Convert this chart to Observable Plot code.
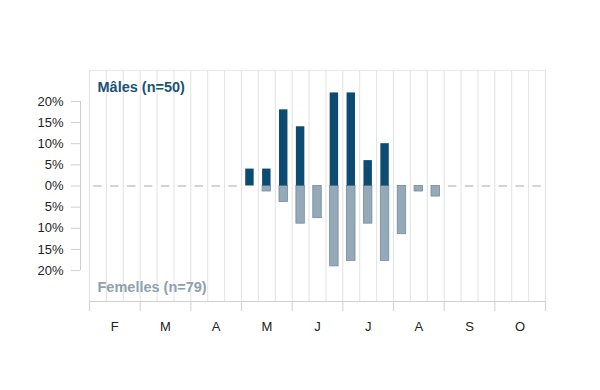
<!DOCTYPE html>
<html>
<head>
<meta charset="utf-8">
<script src="https://cdn.jsdelivr.net/npm/d3@7"></script>
<script src="https://cdn.jsdelivr.net/npm/@observablehq/plot@0.6"></script>
<style>
  html, body { margin: 0; padding: 0; background: #fff; }
</style>
</head>
<body>
<div id="chart"></div>
<script>
// Months shown on the axis; each month is split into three decades (10-day periods)
const months = ["F", "M", "A", "M", "J", "J", "A", "S", "O"];

// Share of captures per decade (%), February decade 1 → October decade 3
const males = [
  0, 0, 0,   // F
  0, 0, 0,   // M
  0, 0, 0,   // A
  4, 4, 18,  // M
  14, 0, 22, // J
  22, 6, 10, // J
  0, 0, 0,   // A
  0, 0, 0,   // S
  0, 0, 0    // O
];
const females = [
  0, 0, 0,
  0, 0, 0,
  0, 0, 0,
  0, 1.3, 3.8,
  8.9, 7.6, 19.0,
  17.7, 8.9, 17.7,
  11.4, 1.3, 2.5,
  0, 0, 0,
  0, 0, 0
];

const yTicks = [-20, -15, -10, -5, 0, 5, 10, 15, 20];
const maleLabel = "Mâles (n=50)";
const femaleLabel = "Femelles (n=79)";

const rows = males.map((m, i) => ({i, m, f: females[i]}));
const nSlots = rows.length;
const monthEdges = d3.range(0, nSlots + 1, 3);
const monthCenters = months.map((_, k) => k * 3 + 1.5);
const yMax = 27.3;

const maleColor = "#0c4c72";
const femaleColor = "#95aab8";

const chart = Plot.plot({
  width: 600,
  height: 390,
  marginLeft: 89,
  marginRight: 55,
  marginTop: 70,
  marginBottom: 89,
  style: {fontFamily: "'Liberation Sans', Arial, sans-serif", background: "#fff"},
  x: {domain: [0, nSlots]},
  y: {domain: [-yMax, yMax]},
  marks: [
    // decade grid
    Plot.ruleX(d3.range(nSlots + 1), {stroke: "#e2e2e2"}),
    Plot.ruleY([yMax], {stroke: "#e8e8e8"}),
    Plot.ruleY([-yMax], {stroke: "#cfcfcf"}),
    // month ticks and labels
    Plot.axisX({ticks: monthEdges, tickSize: 10, tickFormat: () => "", stroke: "#cfcfcf"}),
    Plot.axisX({
      ticks: monthCenters, tickSize: 0, tickPadding: 20,
      tickFormat: d => months[Math.floor(d / 3)],
      fontSize: 13, fill: "#222", label: null
    }),
    // y axis, offset to the left of the plot area
    Plot.ruleX([0], {y1: yTicks[0], y2: yTicks[yTicks.length - 1], dx: -9, stroke: "#cfcfcf"}),
    Plot.axisY({
      ticks: yTicks, tickSize: 9, dx: -9, tickPadding: 8,
      tickFormat: d => Math.abs(d) + "%",
      stroke: "#cfcfcf", fill: "#222", fontSize: 13, label: null
    }),
    // empty decades
    Plot.ruleY(rows.filter(d => d.m === 0 && d.f === 0), {
      y: 0, x1: d => d.i + 0.25, x2: d => d.i + 0.75, stroke: "#a8a8a8"
    }),
    // females below zero
    Plot.rectY(rows.filter(d => d.f > 0), {
      x1: d => d.i + 0.25, x2: d => d.i + 0.75, y1: 0, y2: d => -d.f,
      fill: femaleColor, stroke: "#738a9b", strokeWidth: 0.8
    }),
    // males above zero
    Plot.rectY(rows.filter(d => d.m > 0), {
      x1: d => d.i + 0.25, x2: d => d.i + 0.75, y1: 0, y2: d => d.m,
      fill: maleColor
    }),
    Plot.text([maleLabel], {
      frameAnchor: "top-left", dx: 8, dy: 11, lineAnchor: "top",
      text: d => d, fill: "#1a5276", fontSize: 14.5, fontWeight: "bold", textAnchor: "start"
    }),
    Plot.text([femaleLabel], {
      frameAnchor: "bottom-left", dx: 8, dy: -10, lineAnchor: "bottom",
      text: d => d, fill: "#8da1af", fontSize: 14.5, fontWeight: "bold", textAnchor: "start"
    })
  ]
});

document.getElementById("chart").appendChild(chart);
</script>
</body>
</html>
